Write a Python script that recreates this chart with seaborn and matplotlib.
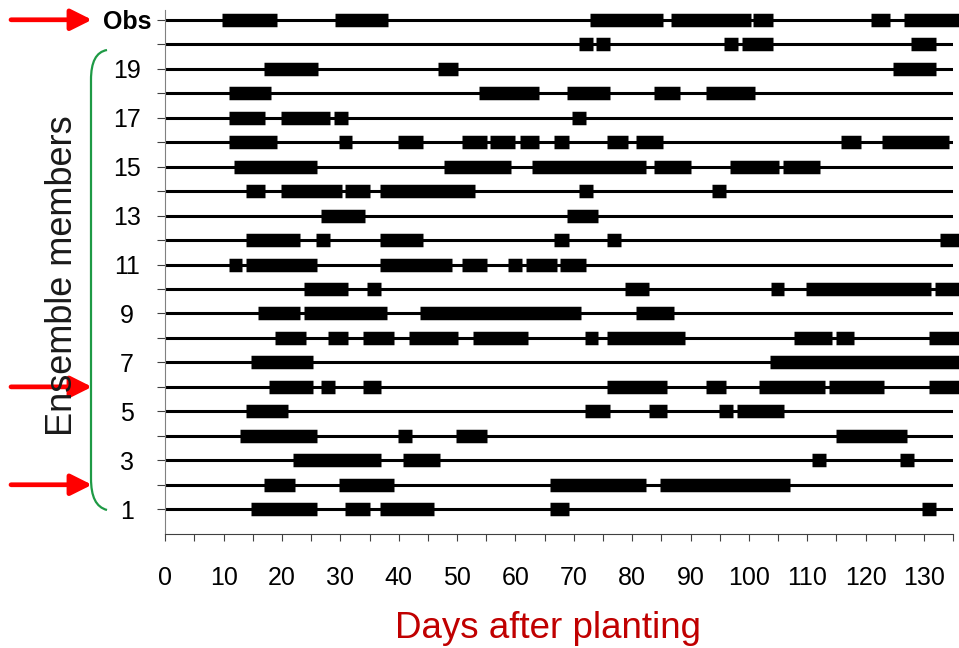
import numpy as np
import pandas as pd
import matplotlib
matplotlib.use("Agg")
import matplotlib.pyplot as plt
import matplotlib.transforms as mtransforms
from matplotlib.path import Path
from matplotlib.patches import PathPatch
import seaborn as sns

# ---------------- data (days after planting, start/end of each spell) -------------
obs = [(9.8, 19.2), (29.0, 38.1), (72.8, 85.2), (86.6, 100.4), (100.7, 104.1),
       (120.9, 124.1), (126.6, 136.5)]
m20 = [(70.8, 73.2), (73.8, 76.2), (95.7, 98.1), (98.8, 104.1), (127.7, 132.0)]
m19 = [(16.9, 26.1), (46.7, 50.2), (124.7, 132.0)]
m18 = [(10.9, 18.1), (53.8, 64.1), (68.9, 76.2), (83.7, 88.2), (92.7, 101.0)]
m17 = [(10.9, 17.0), (19.9, 28.2), (28.9, 31.3), (69.7, 72.0)]
m16 = [(10.9, 19.2), (29.8, 32.0), (39.9, 44.1), (50.8, 55.1), (55.7, 60.0),
       (60.7, 64.1), (66.6, 69.1), (75.7, 79.2), (80.7, 85.2), (115.7, 119.2),
       (122.8, 134.2)]
m15 = [(11.7, 26.0), (47.8, 59.2), (62.8, 82.3), (83.7, 90.1), (96.8, 105.2),
       (105.8, 112.1)]
m14 = [(13.9, 17.0), (19.9, 30.2), (30.8, 35.1), (36.8, 53.1), (70.8, 73.2),
       (93.7, 96.1)]
m13 = [(26.7, 34.2), (68.9, 74.2)]
m12 = [(13.9, 23.0), (25.8, 28.3), (36.8, 44.1), (66.6, 69.1), (75.7, 78.1),
       (132.8, 136.5)]
m11 = [(10.9, 13.2), (13.9, 26.0), (36.8, 49.1), (50.8, 55.1), (58.8, 61.1),
       (61.8, 67.1), (67.6, 72.0)]
m10 = [(23.7, 31.3), (34.6, 37.0), (78.8, 82.9), (103.7, 106.0), (109.7, 131.2),
       (131.9, 136.5)]
m9 = [(15.8, 23.0), (23.7, 38.0), (43.7, 71.2), (80.7, 87.1)]
m8 = [(18.8, 24.1), (27.8, 31.3), (33.8, 39.2), (41.7, 50.2), (52.7, 62.2),
      (71.9, 74.2), (75.7, 89.0), (107.8, 114.2), (114.9, 118.0), (130.8, 136.5)]
m7 = [(14.7, 25.3), (103.6, 136.5)]
m6 = [(17.7, 25.3), (26.7, 29.0), (33.8, 37.0), (75.7, 86.0), (92.7, 96.1),
      (101.7, 113.1), (113.7, 123.2), (130.8, 136.5)]
m5 = [(13.9, 21.1), (71.9, 76.2), (82.9, 86.0), (94.9, 97.2), (97.9, 106.0)]
m4 = [(12.8, 26.0), (39.9, 42.2), (49.8, 55.1), (114.9, 127.1)]
m3 = [(21.8, 37.0), (40.7, 47.1), (110.8, 113.2), (125.8, 128.2)]
m2 = [(16.9, 22.2), (29.7, 39.2), (65.9, 82.3), (84.7, 107.1)]
m1 = [(14.7, 26.0), (30.8, 35.1), (36.8, 46.0), (65.9, 69.1), (129.7, 132.0)]

rows = [m1, m2, m3, m4, m5, m6, m7, m8, m9, m10,
        m11, m12, m13, m14, m15, m16, m17, m18, m19, m20, obs]
row_labels = ["1", "", "3", "", "5", "", "7", "", "9", "", "11", "", "13", "",
              "15", "", "17", "", "19", "", "Obs"]
x_range = (0, 135)
x_ticks = list(range(0, 136, 5))
x_labels = [str(v) if v % 10 == 0 else "" for v in x_ticks]
arrow_rows = [21, 6, 2]

# ---------------- long-form tables ----------------
seg_records = []
sid = 0
for r, spells in enumerate(rows, start=1):
    for s, e in spells:
        seg_records.append({"row": r, "seg": sid, "day": s})
        seg_records.append({"row": r, "seg": sid, "day": e})
        sid += 1
seg_df = pd.DataFrame(seg_records)

base_records = []
for r in range(1, len(rows) + 1):
    base_records.append({"row": r, "day": x_range[0]})
    base_records.append({"row": r, "day": x_range[1]})
base_df = pd.DataFrame(base_records)

# ---------------- plotting ----------------
sns.set_style("ticks")
plt.rcParams["font.family"] = ["Liberation Sans", "DejaVu Sans"]

W, H = 959, 648
fig = plt.figure(figsize=(W / 100, H / 100), dpi=100)
ax = fig.add_axes([165.3 / W, 1 - 533.7 / H, (953.2 - 165.3) / W, 0.8082])

sns.lineplot(data=base_df, x="day", y="row", units="row", estimator=None,
             color="black", lw=2.2, sort=False, legend=False, ax=ax,
             solid_capstyle="butt")
sns.lineplot(data=seg_df, x="day", y="row", units="seg", estimator=None,
             color="black", lw=9.7, sort=False, legend=False, ax=ax,
             solid_capstyle="butt", clip_on=False)

ax.set_xlim(*x_range)
ax.set_ylim(0, 21.4)
ax.set_xlabel("")
ax.set_ylabel("")

ax.set_xticks(x_ticks)
ax.set_xticklabels(x_labels)
ax.set_yticks(range(1, len(rows) + 1))
ax.set_yticklabels(row_labels)

ax.tick_params(axis="x", length=5, width=0.8, pad=18, labelsize=18,
               color="#404040", labelcolor="black", direction="out")
ax.tick_params(axis="y", length=5.8, width=0.8, pad=21.8, labelsize=18,
               color="#404040", labelcolor="black", direction="out")
for lab in ax.get_yticklabels():
    lab.set_ha("center")
    if lab.get_text() == "Obs":
        lab.set_fontweight("bold")

for side in ("top", "right"):
    ax.spines[side].set_visible(False)
ax.spines["left"].set_color("#808080")
ax.spines["left"].set_linewidth(0.8)
ax.spines["bottom"].set_color("#404040")
ax.spines["bottom"].set_linewidth(0.8)

fig.text(62 / W, 1 - 276 / H, "Ensemble members", rotation=90, ha="center",
         va="center", fontsize=26, color="#1a1a1a")
fig.text(548 / W, 1 - 629 / H, "Days after planting", ha="center",
         va="center", fontsize=26.5, color="#C00000")

# red arrows
blend = mtransforms.blended_transform_factory(fig.transFigure, ax.transData)
for r in arrow_rows:
    ax.annotate("", xy=(92 / W, r), xytext=(11 / W, r), xycoords=blend,
                textcoords=blend, annotation_clip=False,
                arrowprops=dict(arrowstyle="-|>", color="#FF0000", lw=3.4,
                                mutation_scale=32, shrinkA=0, shrinkB=0))

# green bracket
pts_px = [(107, 50), (96, 52), (91, 62), (91, 80), (91, 478),
          (91, 497), (96, 507), (107, 510)]
pts = [(x / W, 1 - y / H) for x, y in pts_px]
codes = [Path.MOVETO, Path.CURVE4, Path.CURVE4, Path.CURVE4, Path.LINETO,
         Path.CURVE4, Path.CURVE4, Path.CURVE4]
fig.add_artist(PathPatch(Path(pts, codes), transform=fig.transFigure,
                         facecolor="none", edgecolor="#1E9A45", lw=1.6))

fig.savefig("out.png", dpi=100)
